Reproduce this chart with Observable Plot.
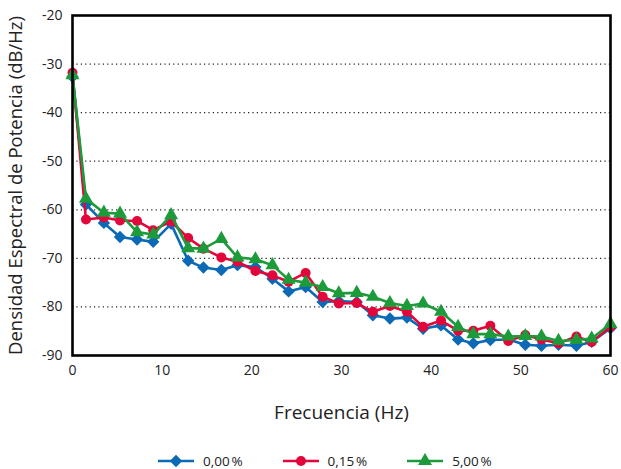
<!DOCTYPE html>
<html><head><meta charset="utf-8">
<script src="https://cdn.jsdelivr.net/npm/d3@7"></script>
<script src="https://cdn.jsdelivr.net/npm/@observablehq/plot@0.6"></script>
<style>
body{margin:0;background:#fff;font-family:"Open Sans",sans-serif;}
#chart{width:621px;}
.legend{display:flex;align-items:center;height:20px;margin-left:158px;font-size:13.5px;color:#222;}
.item{display:flex;align-items:center;margin-right:40px;}
.item svg{margin-right:9px;}
</style></head><body><div id="chart"></div>
<script>
const freq = [0, 1.5, 3.5, 5.3, 7.2, 9.0, 11.0, 12.9, 14.6, 16.6, 18.4, 20.4, 22.3, 24.1, 26.0, 27.9, 29.7, 31.7, 33.5, 35.4, 37.3, 39.1, 41.1, 43.0, 44.7, 46.6, 48.6, 50.5, 52.3, 54.2, 56.2, 57.9, 60];
const s000 = [-32.6, -58.9, -62.7, -65.6, -66.1, -66.6, -62.9, -70.5, -71.9, -72.4, -71.4, -71.8, -74.2, -76.8, -75.9, -79.0, -78.8, -79.0, -81.7, -82.4, -82.2, -84.5, -83.8, -86.7, -87.5, -86.8, -86.7, -87.8, -88.0, -87.8, -88.0, -87.2, -84.4];
const s015 = [-31.8, -62.0, -61.6, -62.2, -62.3, -64.2, -62.4, -65.8, -68.0, -69.8, -70.7, -72.6, -73.5, -74.8, -73.0, -77.9, -79.3, -79.2, -81.0, -79.8, -81.0, -84.1, -82.8, -84.9, -84.9, -83.9, -87.0, -85.8, -86.7, -87.5, -86.1, -87.2, -84.1];
const s500 = [-32.3, -57.7, -60.6, -60.8, -64.6, -65.1, -61.1, -67.9, -68.0, -66.0, -69.8, -70.2, -71.4, -74.4, -75.0, -75.9, -77.2, -77.1, -77.9, -79.2, -79.8, -79.3, -81.0, -84.1, -85.6, -85.6, -86.1, -86.0, -86.1, -87.0, -86.8, -86.5, -83.5];
const seriesNames = ["0,00\u202F%", "0,15\u202F%", "5,00\u202F%"];
const seriesColors = ["#0b69b5", "#e3063b", "#1d9b3b"];
const seriesSymbols = ["diamond2", "circle", "triangle"];
const seriesRadius = [5.6, 5, 5.2];
const xTicks = [0, 10, 20, 30, 40, 50, 60];
const yTicks = [-20, -30, -40, -50, -60, -70, -80, -90];
const gridY = [-30, -40, -50, -60, -70, -80];
const xLabel = "Frecuencia (Hz)";
const yLabel = "Densidad Espectral de Potencia (dB/Hz)";

const allSeries = [s000, s015, s500];
const marks = [
  Plot.ruleY(gridY, {stroke: "#222", strokeWidth: 1.2, strokeDasharray: "1.2,3.2"}),
  Plot.axisX({ticks: xTicks, tickSize: 0, tickPadding: 10, fontSize: 14, tickFormat: d => String(d), label: xLabel, labelAnchor: "center", labelOffset: 63, labelArrow: "none"}),
  Plot.axisY({ticks: yTicks, tickSize: 0, tickPadding: 10, fontSize: 14, tickFormat: d => String(d), label: yLabel, labelAnchor: "center", labelOffset: 64, labelArrow: "none"})
];
allSeries.forEach((vals, i) => {
  const data = freq.map((f, j) => ({f, v: vals[j]}));
  marks.push(Plot.line(data, {x: "f", y: "v", stroke: seriesColors[i], strokeWidth: 2.6}));
  marks.push(Plot.dot(data, {x: "f", y: "v", symbol: () => seriesSymbols[i], fill: seriesColors[i], stroke: "none", r: seriesRadius[i]}));
});
marks.push(Plot.frame({stroke: "#000", strokeWidth: 2.6}));

const chart = Plot.plot({
  width: 621, height: 451,
  marginLeft: 72, marginRight: 11, marginTop: 15, marginBottom: 96,
  x: {domain: [0, 60]},
  y: {domain: [-90, -20]},
  symbol: {type: "identity"},
  style: {fontFamily: "Open Sans, sans-serif", color: "#222", background: "#fff"},
  marks
});
document.getElementById("chart").appendChild(chart);

d3.select(chart).selectAll("g[aria-label='x-axis label'] text").style("font-size", "19px");
d3.select(chart).selectAll("g[aria-label='y-axis label'] text").style("font-size", "18.5px");

const legend = d3.select("#chart").append("div").attr("class", "legend");
seriesNames.forEach((name, i) => {
  const it = legend.append("div").attr("class", "item");
  const sv = it.append("svg").attr("width", 36).attr("height", 16);
  sv.append("line").attr("x1", 0).attr("x2", 36).attr("y1", 8).attr("y2", 8).attr("stroke", seriesColors[i]).attr("stroke-width", 2.6);
  const sym = {diamond2: d3.symbolDiamond2, circle: d3.symbolCircle, triangle: d3.symbolTriangle}[seriesSymbols[i]];
  sv.append("path").attr("transform", "translate(18,8)").attr("d", d3.symbol(sym, Math.PI * seriesRadius[i] * seriesRadius[i])()).attr("fill", seriesColors[i]);
  it.append("span").text(name);
});
</script></body></html>
